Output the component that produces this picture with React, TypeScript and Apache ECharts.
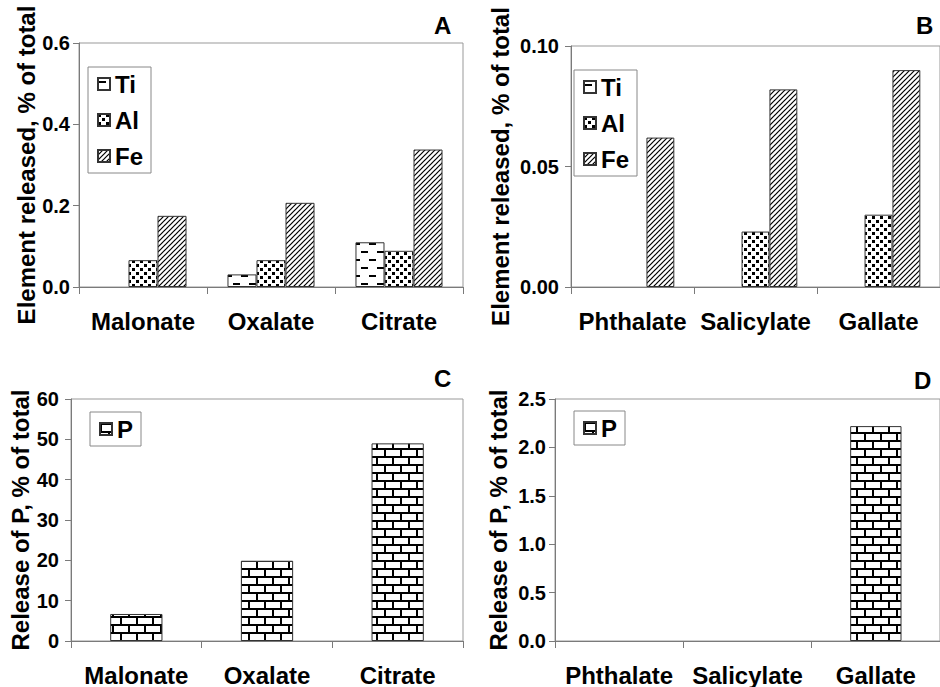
import React, { useEffect, useRef } from 'react';
import * as echarts from 'echarts';

// ---------- data ----------
const catsTop1 = ['Malonate', 'Oxalate', 'Citrate'];
const catsTop2 = ['Phthalate', 'Salicylate', 'Gallate'];
const elements = ['Ti', 'Al', 'Fe'];

const tiA: (number | null)[] = [null, 0.031, 0.11];
const alA: (number | null)[] = [0.066, 0.066, 0.089];
const feA: (number | null)[] = [0.175, 0.207, 0.338];

const tiB: (number | null)[] = [null, null, null];
const alB: (number | null)[] = [null, 0.023, 0.030];
const feB: (number | null)[] = [0.062, 0.082, 0.090];

const pC: (number | null)[] = [6.7, 19.9, 49.0];
const pD: (number | null)[] = [null, null, 2.22];

const ticksA = [0, 0.2, 0.4, 0.6];
const ticksB = [0, 0.05, 0.1];
const ticksC = [0, 10, 20, 30, 40, 50, 60];
const ticksD = [0, 0.5, 1.0, 1.5, 2.0, 2.5];
const decimalsA = 1;
const decimalsB = 2;
const decimalsC = 0;
const decimalsD = 1;

const panelLetters = ['A', 'B', 'C', 'D'];
const yNameTop = 'Element released, % of total';
const yNameBottom = 'Release of P, % of total';

// ---------- patterns ----------
function makeTile(w: number, h: number, draw: (ctx: CanvasRenderingContext2D) => void) {
  const c = document.createElement('canvas');
  c.width = w;
  c.height = h;
  const ctx = c.getContext('2d')!;
  ctx.fillStyle = '#ffffff';
  ctx.fillRect(0, 0, w, h);
  ctx.fillStyle = '#000000';
  ctx.strokeStyle = '#000000';
  draw(ctx);
  return { image: c, repeat: 'repeat', imageWidth: w, imageHeight: h } as any;
}

function buildPatterns() {
  const ti = makeTile(16, 16, (ctx) => {
    ctx.fillRect(1, 3, 7, 2);
    ctx.fillRect(9, 11, 7, 2);
  });
  const al = makeTile(8, 8, (ctx) => {
    ctx.fillRect(0, 0, 3, 3);
    ctx.fillRect(4, 4, 3, 3);
  });
  const fe = makeTile(5, 5, (ctx) => {
    ctx.lineWidth = 1.2;
    for (const x0 of [-5, 0, 5]) {
      ctx.beginPath();
      ctx.moveTo(x0 - 0.5, 5.5);
      ctx.lineTo(x0 + 5.5, -0.5);
      ctx.stroke();
    }
  });
  const brick = makeTile(16, 16, (ctx) => {
    ctx.fillRect(0, 0, 16, 2);
    ctx.fillRect(0, 8, 16, 2);
    ctx.fillRect(0, 0, 2, 8);
    ctx.fillRect(8, 8, 2, 8);
  });
  return { ti, al, fe, brick };
}

const FONT = '"Liberation Sans", Arial, Helvetica, sans-serif';
const AXIS_GRAY = '#7a7a7a';

function fmt(dec: number) {
  return (v: number) => v.toFixed(dec);
}

function yAxisCfg(grid: number, ticks: number[], dec: number, name: string, nameGap: number, labelMargin: number) {
  return {
    type: 'value',
    gridIndex: grid,
    min: ticks[0],
    max: ticks[ticks.length - 1],
    interval: ticks[1] - ticks[0],
    name,
    nameLocation: 'middle',
    nameGap,
    nameTextStyle: { fontSize: 24, fontWeight: 'bold', color: '#000', fontFamily: FONT },
    axisLine: { show: true, lineStyle: { color: AXIS_GRAY, width: 1 } },
    axisTick: { show: true, length: 6, lineStyle: { color: AXIS_GRAY } },
    axisLabel: { formatter: fmt(dec), fontSize: 20, fontWeight: 'bold', color: '#000', fontFamily: FONT, margin: labelMargin },
    splitLine: { show: false },
  };
}

function xAxisCfg(grid: number, cats: string[]) {
  return {
    type: 'category',
    gridIndex: grid,
    data: cats,
    axisLine: { show: true, lineStyle: { color: AXIS_GRAY, width: 1 } },
    axisTick: { show: true, length: 7, lineStyle: { color: AXIS_GRAY } },
    axisLabel: { interval: 0, fontSize: 24, fontWeight: 'bold', color: '#000', fontFamily: FONT, margin: 22 },
    splitLine: { show: false },
  };
}

export default function App() {
  const ref = useRef<HTMLDivElement>(null);
  useEffect(() => {
    if (!ref.current) return;
    const chart = echarts.init(ref.current, null, { renderer: 'svg' });
    const pat = buildPatterns();
    const elemPattern: Record<string, any> = { Ti: pat.ti, Al: pat.al, Fe: pat.fe };
    const border = { borderColor: '#333', borderWidth: 1 };

    const barSeries = (name: string, data: (number | null)[], idx: number, color: any, catGap: string) => ({
      type: 'bar',
      name,
      data,
      xAxisIndex: idx,
      yAxisIndex: idx,
      barGap: '0%',
      barCategoryGap: catGap,
      itemStyle: { color, ...border },
      emphasis: { disabled: true },
    });

    const legendCfg = (data: string[], left: number, top: number) => ({
      data,
      orient: 'vertical',
      left,
      top,
      icon: 'rect',
      itemWidth: 12,
      itemHeight: 12,
      itemGap: 12,
      padding: [5, 8, 5, 9],
      borderColor: '#888',
      borderWidth: 1,
      selectedMode: false,
      textStyle: { fontSize: 24, fontWeight: 'bold', color: '#000', fontFamily: FONT },
    });

    const titlePos = [
      [434, 13],
      [916, 13],
      [434, 366],
      [914, 368],
    ];

    const option: any = {
      animation: false,
      backgroundColor: '#fff',
      textStyle: { fontFamily: FONT },
      title: panelLetters.map((t, i) => ({
        text: t,
        left: titlePos[i][0],
        top: titlePos[i][1],
        padding: 0,
        textStyle: { fontSize: 24, fontWeight: 'bold', color: '#000', fontFamily: FONT },
      })),
      grid: [
        { left: 79, top: 43, width: 384, height: 244, show: true, borderColor: '#999', borderWidth: 1, backgroundColor: 'transparent' },
        { left: 571, top: 46, width: 372, height: 241, show: true, borderColor: '#999', borderWidth: 1, backgroundColor: 'transparent' },
        { left: 71, top: 399, width: 392, height: 243, show: true, borderColor: '#999', borderWidth: 1, backgroundColor: 'transparent' },
        { left: 555, top: 399, width: 390, height: 243, show: true, borderColor: '#999', borderWidth: 1, backgroundColor: 'transparent' },
      ],
      xAxis: [xAxisCfg(0, catsTop1), xAxisCfg(1, catsTop2), xAxisCfg(2, catsTop1), xAxisCfg(3, catsTop2)],
      yAxis: [
        yAxisCfg(0, ticksA, decimalsA, yNameTop, 39, 9),
        yAxisCfg(1, ticksB, decimalsB, yNameTop, 59, 12),
        yAxisCfg(2, ticksC, decimalsC, yNameBottom, 32, 12),
        yAxisCfg(3, ticksD, decimalsD, yNameBottom, 45, 9),
      ],
      legend: [
        legendCfg(elements, 88, 67),
        legendCfg(elements, 574, 70),
        legendCfg(['P'], 90, 412),
        legendCfg(['P'], 574, 411),
      ],
      series: [
        barSeries(elements[0], tiA, 0, elemPattern.Ti, '32%'),
        barSeries(elements[1], alA, 0, elemPattern.Al, '32%'),
        barSeries(elements[2], feA, 0, elemPattern.Fe, '32%'),
        barSeries(elements[0], tiB, 1, elemPattern.Ti, '32%'),
        barSeries(elements[1], alB, 1, elemPattern.Al, '32%'),
        barSeries(elements[2], feB, 1, elemPattern.Fe, '32%'),
        barSeries('P', pC, 2, pat.brick, '60%'),
        barSeries('P', pD, 3, pat.brick, '60%'),
      ],
    };
    chart.setOption(option);
    return () => chart.dispose();
  }, []);
  return (
    <div
      ref={ref}
      style={{ position: 'absolute', left: 0, top: 0, width: 940, height: 687, background: '#fff' }}
    />
  );
}
